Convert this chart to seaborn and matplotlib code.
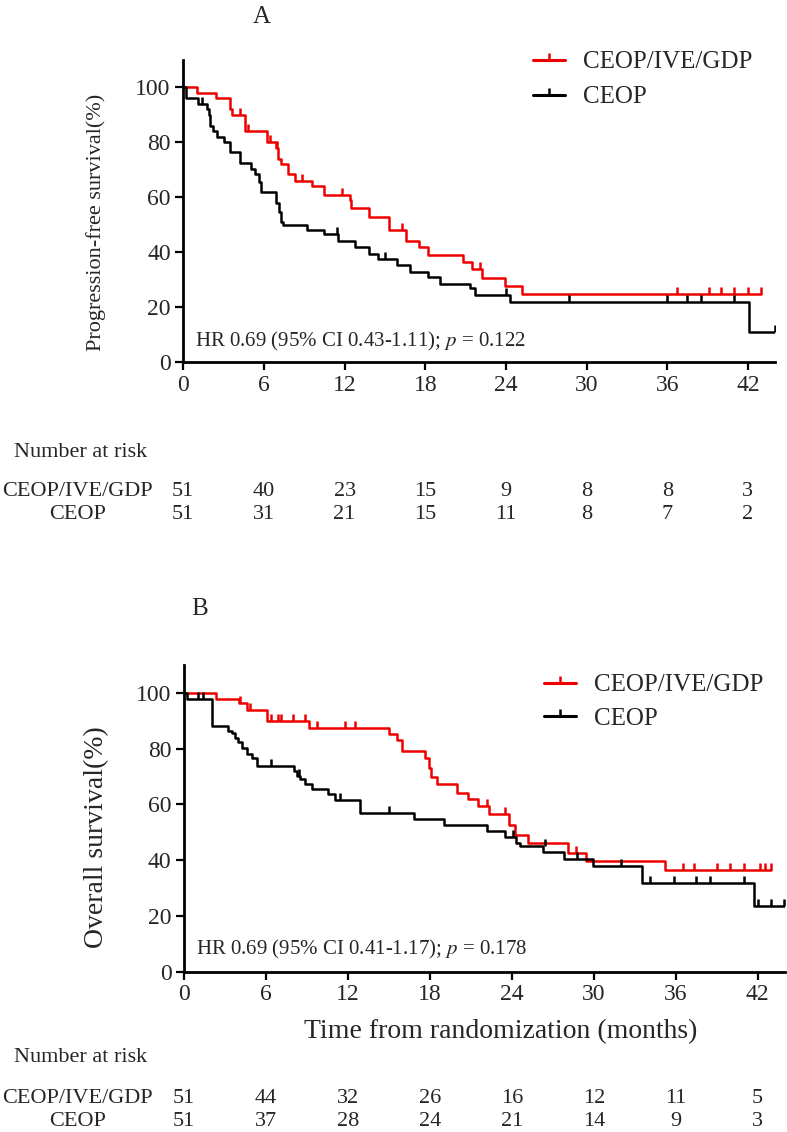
import pandas as pd
import matplotlib
matplotlib.use('Agg')
import matplotlib.pyplot as plt
import matplotlib.transforms as mtransforms
from matplotlib.path import Path
from matplotlib.lines import Line2D
import seaborn as sns

sns.set_style('white')
plt.rcParams['font.family'] = ['Liberation Serif', 'DejaVu Serif']
plt.rcParams['mathtext.fontset'] = 'stix'

groups = ['CEOP/IVE/GDP', 'CEOP']
colors = {'CEOP/IVE/GDP': '#ee0000', 'CEOP': 'black'}
risk_times = [0, 6, 12, 18, 24, 30, 36, 42]

# panel A - progression-free survival (step points)
pfs_red_t = [0, 1.0, 2.4, 3.45, 3.6, 4.6, 6.2, 6.9, 7.07, 7.3, 7.8, 8.3, 9.55, 10.5, 12.4, 12.5,
             13.8, 15.3, 16.6, 17.5, 18.2, 20.8, 21.5, 22.2, 23.9, 25.2, 43.0]
pfs_red_s = [100, 98, 96, 92, 90, 84, 80, 78, 74, 72, 68.6, 66, 64, 61, 59, 56,
             53, 48, 44, 42, 39, 36.3, 33.8, 30.8, 27.7, 24.7, 24.7]
pfs_red_cens_t = [4.2, 4.8, 6.45, 6.95, 8.8, 11.8, 16.3, 22.1, 36.7, 39.1, 40.0, 41.0, 42.0, 43.0]
pfs_red_cens_s = [90, 84, 80, 78, 66, 61, 48, 33.8, 24.7, 24.7, 24.7, 24.7, 24.7, 24.7]

pfs_blk_t = [0, 0.2, 1.1, 1.74, 1.93, 2.0, 2.2, 2.5, 3.0, 3.5, 4.2, 5.0, 5.3, 5.6, 5.8, 6.9, 7.15,
             7.3, 7.45, 9.2, 10.5, 11.5, 12.8, 13.8, 14.5, 15.9, 16.9, 18.2, 19.1, 21.3, 21.7, 24.3,
             42.1, 44.0]
pfs_blk_s = [100, 96, 94, 92, 90, 86, 84, 82, 80, 76.5, 72.5, 70.5, 68.5, 65.5, 62, 58, 54.5,
             51, 50, 48, 46.5, 44, 42, 39.5, 37.5, 35.5, 33, 31, 28.5, 27, 24.3, 21.8,
             10.9, 10.9]
pfs_blk_cens_t = [1.4, 11.4, 15.0, 24.0, 28.7, 36.0, 37.5, 38.5, 41.0, 44.0]
pfs_blk_cens_s = [94, 46.5, 37.5, 24.3, 21.8, 21.8, 21.8, 21.8, 21.8, 10.9]

# panel B - overall survival
os_red_t = [0, 2.34, 4.03, 4.59, 6.05, 9.18, 15.0, 15.57, 15.98, 17.64, 17.9, 18.1, 18.5, 19.96,
            20.8, 21.55, 22.35, 23.8, 24.2, 25.2, 28.1, 29.4, 35.2, 43.0]
os_red_s = [100, 98, 96.3, 93.9, 89.8, 87.3, 85.2, 83.2, 79, 76.5, 73.2, 70, 67.2, 64.2,
            61.8, 59.4, 56.4, 52.5, 49.2, 46, 42.6, 39.6, 36.4, 36.4]
os_red_cens_t = [4.1, 4.8, 6.4, 6.9, 7.1, 7.95, 8.86, 9.7, 11.8, 12.5, 22.2, 23.5, 28.7,
                 36.55, 37.3, 39.0, 40.0, 41.0, 42.2, 42.5, 43.0]
os_red_cens_s = [96.3, 93.9, 89.8, 89.8, 89.8, 89.8, 89.8, 87.3, 87.3, 87.3, 59.4, 56.4, 42.6,
                 36.4, 36.4, 36.4, 36.4, 36.4, 36.4, 36.4, 36.4]

os_blk_t = [0, 0.2, 2.03, 3.25, 3.49, 3.73, 3.98, 4.22, 4.59, 4.95, 5.37, 8.05, 8.3, 8.49, 8.86,
            9.35, 10.57, 11.05, 12.9, 16.84, 19.03, 22.2, 23.5, 24.3, 24.6, 26.3, 27.8, 29.95,
            33.5, 41.7, 44.0]
os_blk_s = [100, 98, 88.2, 86.5, 85.8, 84, 82.5, 80.4, 78, 76.5, 73.8, 72, 70.2, 69, 67.2,
            65.7, 63.6, 61.5, 57, 54.6, 52.6, 50.4, 48.2, 46.0, 45.0, 42.9, 40.5, 37.8,
            31.8, 23.7, 23.7]
os_blk_cens_t = [1.0, 1.4, 6.34, 8.4, 11.4, 15.0, 24.1, 26.4, 28.75, 32.0, 34.1, 35.9, 37.5,
                 38.5, 41.0, 42.0, 43.0, 43.9]
os_blk_cens_s = [98, 98, 73.8, 70.2, 61.5, 57.0, 48.2, 45.0, 40.5, 37.8, 31.8, 31.8, 31.8,
                 31.8, 31.8, 23.7, 23.7, 23.7]

pfs_risk_red = [51, 40, 23, 15, 9, 8, 8, 3]
pfs_risk_blk = [51, 31, 21, 15, 11, 8, 7, 2]
os_risk_red = [51, 44, 32, 26, 16, 12, 11, 5]
os_risk_blk = [51, 37, 28, 24, 21, 14, 9, 3]

# censor mark: a short stroke pointing up from the curve
tick_mark = Path([(0, 0), (0, 1)], [Path.MOVETO, Path.LINETO])


def curve_df(t, s, group):
    return pd.DataFrame({'time': t, 'surv': s, 'group': group})


def draw_panel(ax, curves, cens, hr_text, hr_y, ylabel, ylabel_size, ylabel_pos):
    for g in groups:
        d = curves[g]
        sns.lineplot(data=d, x='time', y='surv', ax=ax, color=colors[g], lw=1.8,
                     drawstyle='steps-post', estimator=None, sort=False)
        c = cens[g]
        sns.lineplot(data=c, x='time', y='surv', ax=ax, color=colors[g], linestyle='',
                     marker=tick_mark, markersize=10, markeredgewidth=1.8,
                     markeredgecolor=colors[g], estimator=None, sort=False)
    ax.set_xlim(0, 44)
    ax.set_ylim(0, 110)
    ax.set_xticks(risk_times)
    ax.set_yticks([0, 20, 40, 60, 80, 100])
    sns.despine(ax=ax)
    for sp in ['left', 'bottom']:
        ax.spines[sp].set_linewidth(2)
        ax.spines[sp].set_color('black')
    ax.tick_params(direction='out', length=6, width=1.6, labelsize=17, pad=3,
                   left=True, bottom=True, color='black')
    ax.set_ylabel(ylabel, fontsize=ylabel_size)
    ax.yaxis.set_label_coords(*ylabel_pos)
    ax.set_xlabel('')
    ax.text(0.9, hr_y, hr_text, fontsize=15, va='center', ha='left')
    handles = [Line2D([], [], color=colors[g], lw=2.2, marker=tick_mark, markersize=10,
                      markeredgewidth=1.8) for g in groups]
    return handles


fig = plt.figure(figsize=(7.87, 11.32), dpi=100)
axA = fig.add_axes([0.2329, 0.6800, 0.7515, 0.2670])
axB = fig.add_axes([0.2338, 0.1416, 0.7637, 0.2709])

hA = draw_panel(axA,
                {groups[0]: curve_df(pfs_red_t, pfs_red_s, groups[0]),
                 groups[1]: curve_df(pfs_blk_t, pfs_blk_s, groups[1])},
                {groups[0]: curve_df(pfs_red_cens_t, pfs_red_cens_s, groups[0]),
                 groups[1]: curve_df(pfs_blk_cens_t, pfs_blk_cens_s, groups[1])},
                'HR 0.69 (95% CI 0.43-1.11); $\\mathit{p}$ = 0.122', 7.5,
                'Progression-free survival(%)', 16, (-0.131, 0.464))
hB = draw_panel(axB,
                {groups[0]: curve_df(os_red_t, os_red_s, groups[0]),
                 groups[1]: curve_df(os_blk_t, os_blk_s, groups[1])},
                {groups[0]: curve_df(os_red_cens_t, os_red_cens_s, groups[0]),
                 groups[1]: curve_df(os_blk_cens_t, os_blk_cens_s, groups[1])},
                'HR 0.69 (95% CI 0.41-1.17); $\\mathit{p}$ = 0.178', 7.8,
                'Overall survival(%)', 20, (-0.124, 0.439))
axB.set_xlabel('Time from randomization (months)', fontsize=20)
axB.xaxis.set_label_coords(0.527, -0.154)

legA = fig.legend(hA, groups, loc='upper left', bbox_to_anchor=(0.677, 0.955),
                  frameon=False, fontsize=18, handlelength=1.3, handletextpad=0.7,
                  labelspacing=0.5, borderpad=0, borderaxespad=0)
legB = fig.legend(hB, groups, loc='upper left', bbox_to_anchor=(0.691, 0.4046),
                  frameon=False, fontsize=18, handlelength=1.3, handletextpad=0.7,
                  labelspacing=0.45, borderpad=0, borderaxespad=0)

fig.text(0.333, 0.985, 'A', fontsize=18, ha='center', va='center')
fig.text(0.253, 0.462, 'B', fontsize=18, ha='center', va='center')


def risk_table(ax, title_y, row_ys, rows):
    trans = mtransforms.blended_transform_factory(ax.transData, fig.transFigure)
    fig.text(0.018, title_y, 'Number at risk', fontsize=16, ha='left', va='center')
    for g, y, vals in zip(groups, row_ys, rows):
        fig.text(0.098, y, g, fontsize=16, ha='center', va='center')
        for t, v in zip(risk_times, vals):
            ax.text(t, y, str(v), transform=trans, fontsize=16, ha='center', va='center')


risk_table(axA, 0.6007, [0.5654, 0.5451], [pfs_risk_red, pfs_risk_blk])
risk_table(axB, 0.0654, [0.0300, 0.0090], [os_risk_red, os_risk_blk])

fig.savefig('out.png', dpi=100)
